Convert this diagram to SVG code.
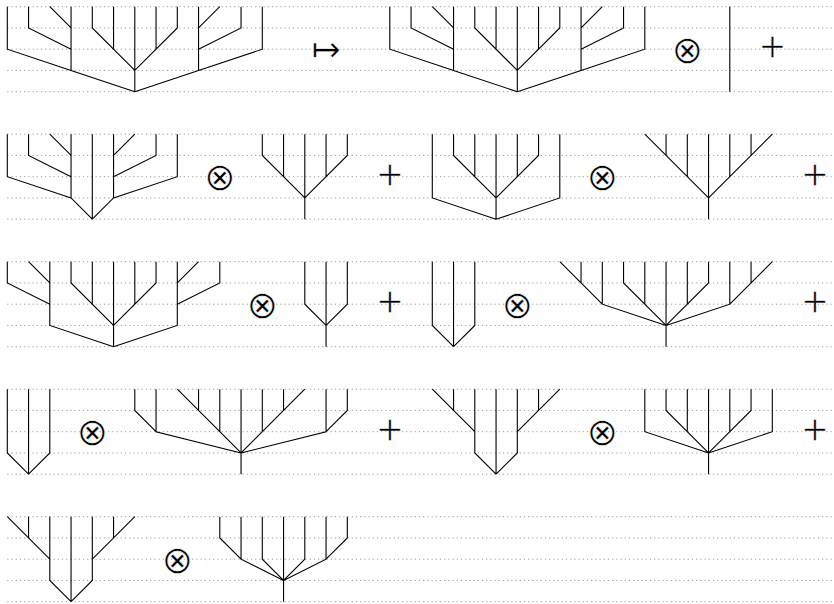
<svg xmlns="http://www.w3.org/2000/svg" width="834" height="604" viewBox="0 0 834 604">
<style>
.grid line{stroke:#9a9a9a;stroke-width:1;stroke-dasharray:1.2 3}
.t path{fill:none;stroke:#000;stroke-width:1.1;vector-effect:non-scaling-stroke;stroke-linejoin:miter}
.sym{fill:#000;text-anchor:middle}
.ot{font-family:"DejaVu Sans",sans-serif;font-size:38px;stroke:#fff;stroke-width:0.7}
.pl{font-family:"Liberation Serif",serif;font-size:44px;stroke:#fff;stroke-width:0.3}
.mt{font-family:"DejaVu Sans",sans-serif;font-size:35px;stroke:#fff;stroke-width:0.6}
</style>
<rect width="834" height="604" fill="#fff"/>
<g class="grid">
<line x1="7.3" y1="6.7" x2="834" y2="6.7"/><line x1="7.3" y1="27.95" x2="834" y2="27.95"/><line x1="7.3" y1="49.2" x2="834" y2="49.2"/><line x1="7.3" y1="70.45" x2="834" y2="70.45"/><line x1="7.3" y1="91.7" x2="834" y2="91.7"/>
<line x1="7.3" y1="134.2" x2="834" y2="134.2"/><line x1="7.3" y1="155.45" x2="834" y2="155.45"/><line x1="7.3" y1="176.7" x2="834" y2="176.7"/><line x1="7.3" y1="197.95" x2="834" y2="197.95"/><line x1="7.3" y1="219.2" x2="834" y2="219.2"/>
<line x1="7.3" y1="261.7" x2="834" y2="261.7"/><line x1="7.3" y1="282.95" x2="834" y2="282.95"/><line x1="7.3" y1="304.2" x2="834" y2="304.2"/><line x1="7.3" y1="325.45" x2="834" y2="325.45"/><line x1="7.3" y1="346.7" x2="834" y2="346.7"/>
<line x1="7.3" y1="389.2" x2="834" y2="389.2"/><line x1="7.3" y1="410.45" x2="834" y2="410.45"/><line x1="7.3" y1="431.7" x2="834" y2="431.7"/><line x1="7.3" y1="452.95" x2="834" y2="452.95"/><line x1="7.3" y1="474.2" x2="834" y2="474.2"/>
<line x1="7.3" y1="516.7" x2="834" y2="516.7"/><line x1="7.3" y1="537.95" x2="834" y2="537.95"/><line x1="7.3" y1="559.2" x2="834" y2="559.2"/><line x1="7.3" y1="580.45" x2="834" y2="580.45"/><line x1="7.3" y1="601.7" x2="834" y2="601.7"/>
</g>

<g id="row1" transform="translate(7.3,6.7) scale(21.25)">
<g id="treeA" class="t"><path d="M0,0V2L3,3L6,4M1,0V1L3,2M2,0L3,1M3,0V3M4,0V1L6,3M5,0V2M6,0V4M7,0V2M8,0V1L6,3M9,0V3M10,0L9,1M11,0V1L9,2M12,0V2L9,3L6,4"/></g>
<g id="treeB" class="t"><path d="M18,0V2L21,3L24,4M19,0V1L21,2M20,0L21,1M21,0V3M22,0V1L24,3M23,0V2M24,0V4M25,0V2M26,0V1L24,3M27,0V3M28,0L27,1M29,0V1L27,2M30,0V2L27,3L24,4"/></g>
<g id="edge1" class="t"><path d="M34,0V4"/></g>
</g>

<g id="row2" transform="translate(7.3,134.2) scale(21.25)">
<g id="treeC" class="t"><path d="M0,0V2L3,3L4,4M1,0V1L3,2M2,0L3,1M3,0V3M4,0V4M5,0V3M6,0L5,1M7,0V1L5,2M8,0V2L5,3L4,4"/></g>
<g id="treeD" class="t"><path d="M12,0V1L14,3M13,0V2M14,0V4M15,0V2M16,0V1L14,3"/></g>
<g id="treeE" class="t"><path d="M20,0V3L23,4M21,0V1L23,3M22,0V2M23,0V4M24,0V2M25,0V1L23,3M26,0V3L23,4"/></g>
<g id="treeF" class="t"><path d="M30,0L33,3M31,0V1M32,0V2M33,0V4M34,0V2M35,0V1M36,0L33,3"/></g>
</g>

<g id="row3" transform="translate(7.3,261.7) scale(21.25)">
<g id="treeG" class="t"><path d="M0,0V1L2,2M1,0L2,1M2,0V3L5,4M3,0V1L5,3M4,0V2M5,0V4M6,0V2M7,0V1L5,3M8,0V3L5,4M9,0L8,1M10,0V1L8,2"/></g>
<g id="treeH" class="t"><path d="M14,0V2L15,3M15,0V4M16,0V2L15,3"/></g>
<g id="treeI" class="t"><path d="M20,0V3L21,4M21,0V4M22,0V3L21,4"/></g>
<g id="treeJ" class="t"><path d="M26,0L28,2M27,0V1M28,0V2L31,3M29,0V1L31,3M30,0V2M31,0V4M32,0V2M33,0V1L31,3M34,0V2L31,3M35,0V1M36,0L34,2"/></g>
</g>

<g id="row4" transform="translate(7.3,389.2) scale(21.25)">
<g id="treeK" class="t"><path d="M0,0V3L1,4M1,0V4M2,0V3L1,4"/></g>
<g id="treeL" class="t"><path d="M6,0V1L7,2M7,0V2L11,3M8,0L11,3M9,0V1M10,0V2M11,0V4M12,0V2M13,0V1M14,0L11,3M15,0V2L11,3M16,0V1L15,2"/></g>
<g id="treeM" class="t"><path d="M20,0L22,2M21,0V1M22,0V3L23,4M23,0V4M24,0V3L23,4M25,0V1M26,0L24,2"/></g>
<g id="treeN" class="t"><path d="M30,0V2L33,3M31,0V1L33,3M32,0V2M33,0V4M34,0V2M35,0V1L33,3M36,0V2L33,3"/></g>
</g>

<g id="row5" transform="translate(7.3,516.7) scale(21.25)">
<g id="treeO" class="t"><path d="M0,0L2,2M1,0V1M2,0V3L3,4M3,0V4M4,0V3L3,4M5,0V1M6,0L4,2"/></g>
<g id="treeP" class="t"><path d="M10,0V1L11,2M11,0V2L13,3M12,0V2L13,3M13,0V4M14,0V2L13,3M15,0V2L13,3M16,0V1L15,2"/></g>
</g>

<g id="symbols" class="sym">
<text class="mt" x="326.05" y="61.4">↦</text>
<text class="ot" x="687.3" y="62.5">⊗</text>
<text class="pl" x="772.3" y="62">+</text>
<text class="ot" x="219.8" y="190">⊗</text>
<text class="pl" x="389.8" y="189.5">+</text>
<text class="ot" x="602.3" y="190">⊗</text>
<text class="pl" x="814.8" y="189.5">+</text>
<text class="ot" x="262.3" y="317.5">⊗</text>
<text class="pl" x="389.8" y="317">+</text>
<text class="ot" x="517.3" y="317.5">⊗</text>
<text class="pl" x="814.8" y="317">+</text>
<text class="ot" x="92.3" y="445">⊗</text>
<text class="pl" x="389.8" y="444.5">+</text>
<text class="ot" x="602.3" y="445">⊗</text>
<text class="pl" x="814.8" y="444.5">+</text>
<text class="ot" x="177.3" y="572.5">⊗</text>
</g>
</svg>
